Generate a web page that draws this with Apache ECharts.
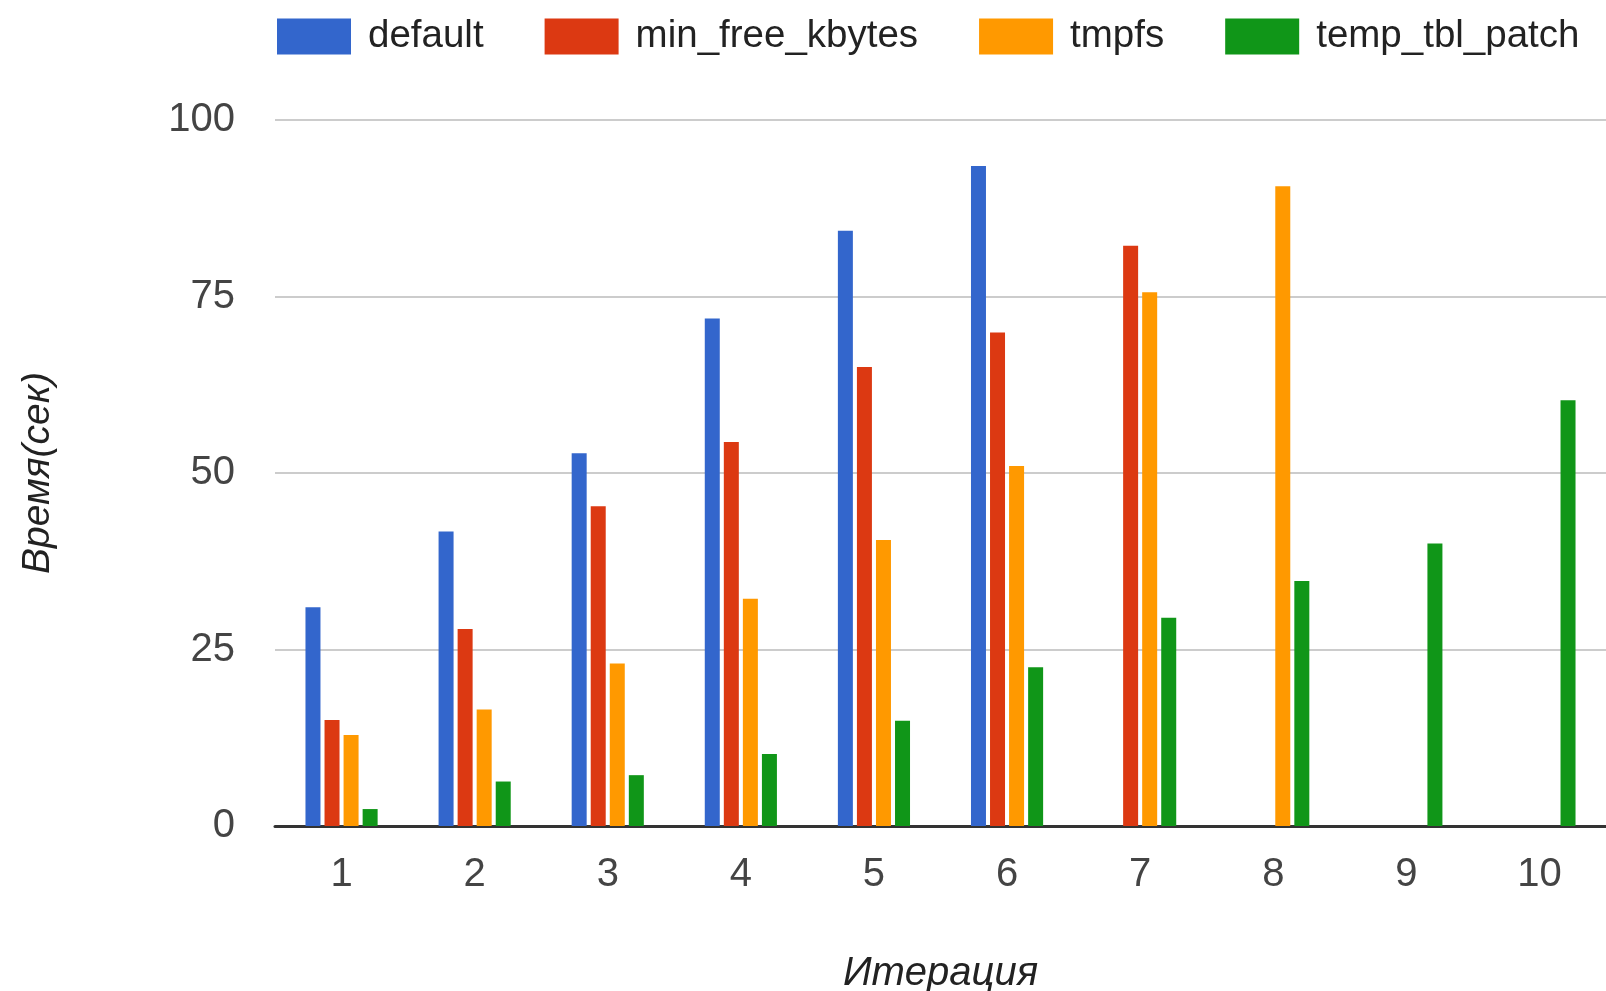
<!DOCTYPE html>
<html>
<head>
<meta charset="utf-8">
<style>
  html, body { margin: 0; padding: 0; background: #fff; }
  #chart { width: 1606px; height: 991px; }
</style>
<script src="https://cdn.jsdelivr.net/npm/echarts@6/dist/echarts.min.js"></script>
</head>
<body>
<div id="chart"></div>
<script>
// Iteration numbers along the x axis
const iterations = ['1', '2', '3', '4', '5', '6', '7', '8', '9', '10'];

// Run time in seconds for each configuration (null = no run)
const seriesNames = ['default', 'min_free_kbytes', 'tmpfs', 'temp_tbl_patch'];
const defaultTimes = [31.0, 41.7, 52.8, 71.9, 84.3, 93.5, null, null, null, null];
const minFreeKbytesTimes = [15.0, 27.9, 45.3, 54.4, 65.0, 69.9, 82.2, null, null, null];
const tmpfsTimes = [12.9, 16.5, 23.0, 32.2, 40.5, 51.0, 75.6, 90.6, null, null];
const tempTblPatchTimes = [2.4, 6.3, 7.2, 10.2, 14.9, 22.5, 29.5, 34.7, 40.0, 60.3];

const seriesColors = ['#3366cc', '#dc3912', '#ff9900', '#109618'];
const seriesData = [defaultTimes, minFreeKbytesTimes, tmpfsTimes, tempTblPatchTimes];

const FONT = '"Liberation Sans", Arial, sans-serif';

const chart = echarts.init(document.getElementById('chart'), null, { renderer: 'canvas' });

chart.setOption({
  animation: false,
  backgroundColor: '#ffffff',
  color: seriesColors,
  legend: {
    top: 17,
    left: 277,
    padding: 0,
    itemWidth: 74,
    itemHeight: 36,
    itemGap: 61,
    icon: 'rect',
    textStyle: { fontFamily: FONT, fontSize: 38.5, color: '#222222', padding: [0, 0, 0, 12] },
    data: seriesNames
  },
  grid: {
    left: 275,
    right: 0,
    top: 120,
    bottom: 165,
    containLabel: false,
    outerBoundsMode: 'none'
  },
  xAxis: {
    type: 'category',
    data: iterations,
    name: 'Итерация',
    nameLocation: 'middle',
    nameGap: 128,
    nameTextStyle: { fontFamily: FONT, fontSize: 40, fontStyle: 'italic', color: '#222222' },
    axisLine: { show: true, lineStyle: { color: '#333333', width: 3 } },
    axisTick: { show: false },
    axisLabel: { fontFamily: FONT, fontSize: 40, color: '#444444', margin: 29 },
    splitLine: { show: false }
  },
  yAxis: {
    type: 'value',
    min: 0,
    max: 100,
    interval: 25,
    name: 'Время(сек)',
    nameLocation: 'middle',
    nameGap: 217,
    nameTextStyle: { fontFamily: FONT, fontSize: 39, fontStyle: 'italic', color: '#222222' },
    axisLine: { show: false },
    axisTick: { show: false },
    axisLabel: { fontFamily: FONT, fontSize: 40, color: '#444444', margin: 40 },
    splitLine: { show: true, lineStyle: { color: '#cccccc', width: 2 } }
  },
  series: seriesNames.map((name, i) => ({
    name: name,
    type: 'bar',
    data: seriesData[i],
    barWidth: 15,
    barGap: '27%',
    itemStyle: { color: seriesColors[i] }
  }))
});
</script>
</body>
</html>
